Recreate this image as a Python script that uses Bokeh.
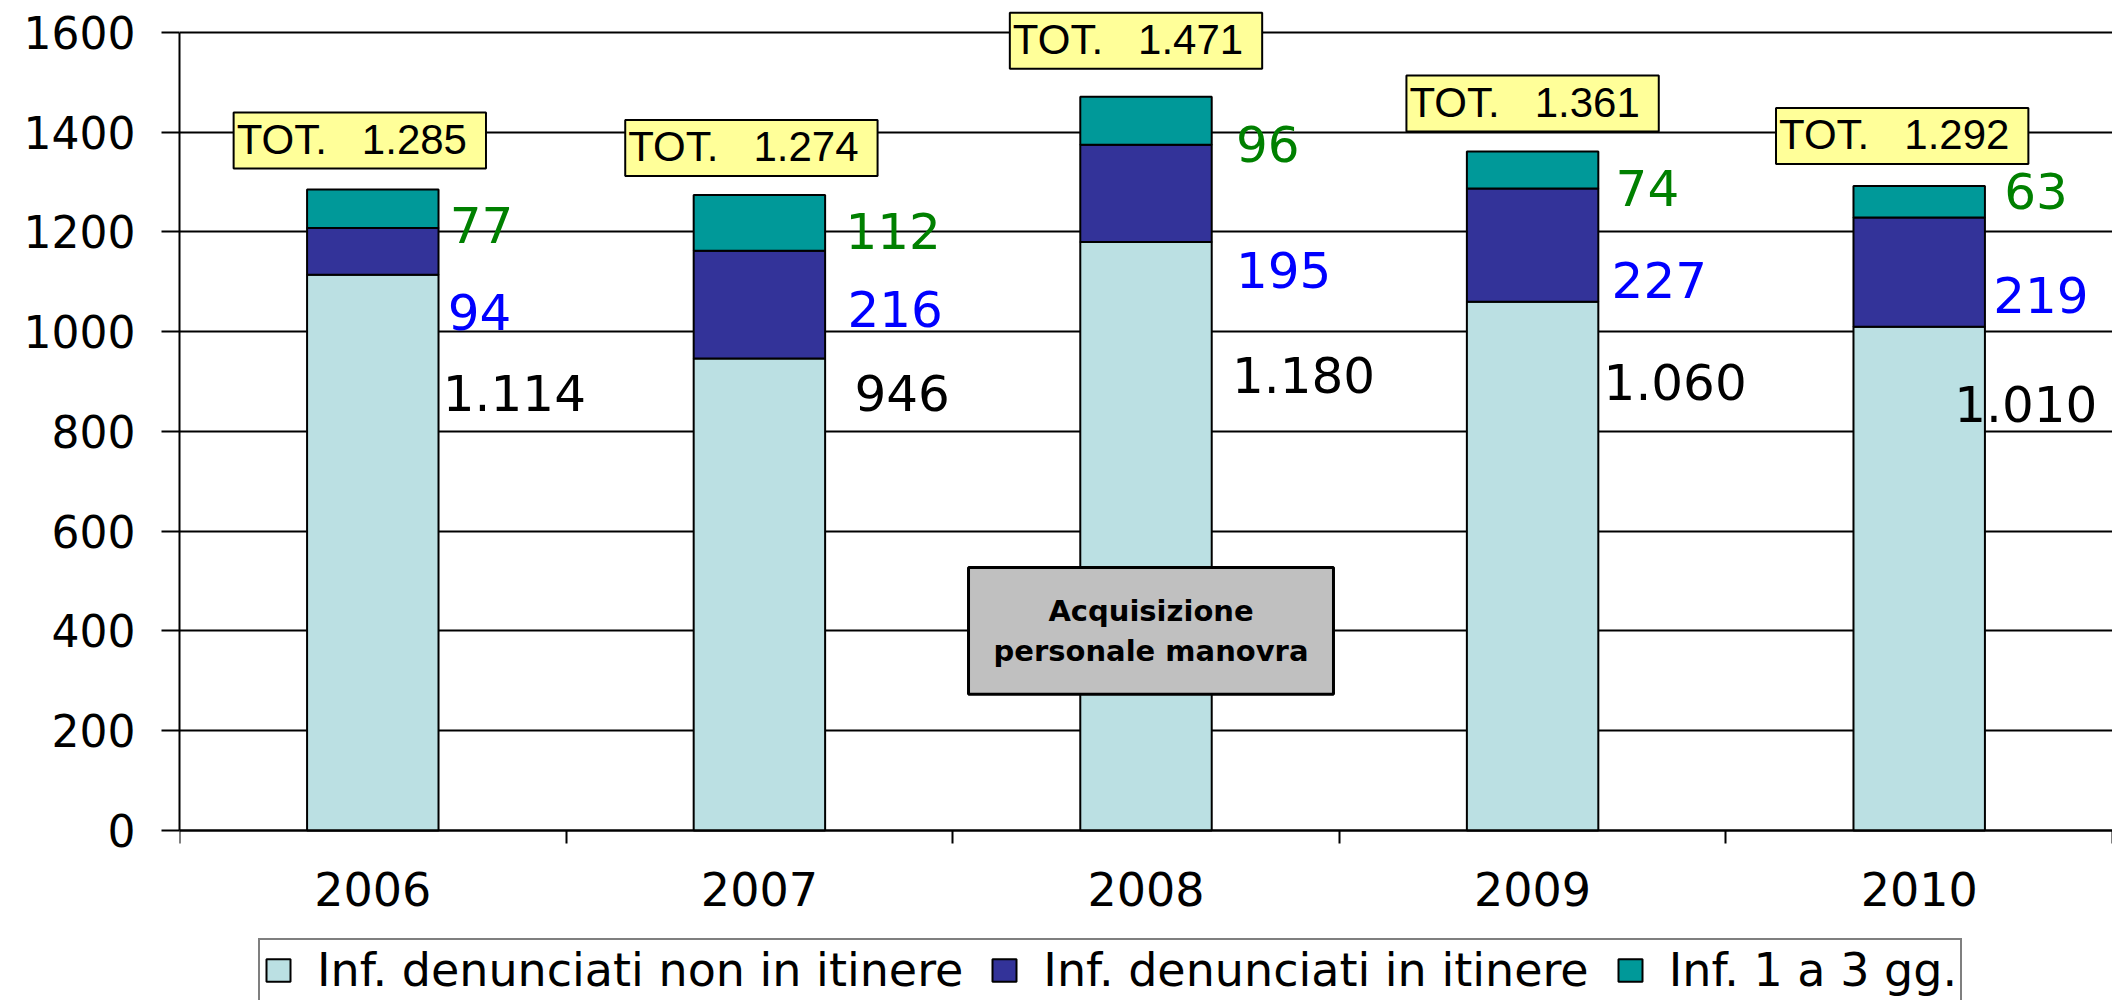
from bokeh.plotting import figure
from bokeh.models import ColumnDataSource, Range1d, FixedTicker, Legend, LegendItem, Label
from bokeh.embed import file_html
from bokeh.resources import INLINE
from bokeh.core.properties import value

# ---------------- data ----------------
years = ["2006", "2007", "2008", "2009", "2010"]
non_itinere = [1114, 946, 1180, 1060, 1010]
in_itinere = [94, 216, 195, 227, 219]
gg_1_3 = [77, 112, 96, 74, 63]
series_names = ["Inf. denunciati non in itinere", "Inf. denunciati in itinere", "Inf. 1 a 3 gg."]
y_ticks = [0, 200, 400, 600, 800, 1000, 1200, 1400, 1600]
note_text = "Acquisizione\npersonale manovra"
note_year = "2008"
note_value = 400

# ---------------- label placement (layout only) ----------------
lbl_y_gg = [1213, 1202, 1377, 1288, 1283]
lbl_y_it = [1040, 1046, 1124, 1104, 1074]
lbl_y_base = [878, 878, 913, 900, 855]
dx_gg = [77, 86, 90, 83, 85]
dx_it = [75, 88, 90, 79, 74]
dx_base = [70, 95, 86, 71, 35]
tot_dx = [-13, -8, -10, 0, -17]
tot_gap = [21, 19, 28, 20, 22]

colors = ["#BBE0E3", "#333399", "#009999"]
FONT = "DejaVu Sans"


def fmt(v):
    return f"{v:,}".replace(",", ".")


xs = [i + 0.5 for i in range(len(years))]
totals = [a + b + c for a, b, c in zip(non_itinere, in_itinere, gg_1_3)]

src = ColumnDataSource(dict(x=xs, base=non_itinere, it=in_itinere, gg=gg_1_3))

p = figure(width=2112, height=1000, output_backend="svg", toolbar_location=None,
           x_range=Range1d(0, 5), y_range=Range1d(-341, 1664),
           min_border_left=179, min_border_right=0, min_border_top=0, min_border_bottom=0)
p.outline_line_color = None
p.background_fill_color = "white"
p.border_fill_color = "white"

rs = p.vbar_stack(["base", "it", "gg"], x="x", width=0.34, fill_color=colors,
                  line_color="black", line_width=2, source=src)

# axes
p.yaxis.ticker = FixedTicker(ticks=y_ticks)
p.yaxis.bounds = (0, 1600)
p.yaxis.axis_line_width = 2
p.yaxis.major_tick_line_width = 2
p.yaxis.major_tick_out = 18
p.yaxis.major_tick_in = 0
p.yaxis.minor_tick_line_color = None
p.yaxis.major_label_standoff = 26
p.yaxis.major_label_text_font = FONT
p.yaxis.major_label_text_font_size = "44px"
p.yaxis.major_label_text_color = "black"

p.xaxis.fixed_location = 0
p.xaxis.ticker = FixedTicker(ticks=xs, minor_ticks=[0, 1, 2, 3, 4, 5])
p.xaxis.major_label_overrides = {x: y for x, y in zip(xs, years)}
p.xaxis.axis_line_width = 2
p.xaxis.major_tick_out = 0
p.xaxis.major_tick_in = 0
p.xaxis.minor_tick_out = 13
p.xaxis.minor_tick_in = 0
p.xaxis.minor_tick_line_width = 2
p.xaxis.minor_tick_line_color = "black"
p.xaxis.major_label_standoff = 29
p.xaxis.major_label_text_font = FONT
p.xaxis.major_label_text_font_size = "46px"
p.xaxis.major_label_text_color = "black"

p.xgrid.grid_line_color = None
p.ygrid.grid_line_color = "black"
p.ygrid.grid_line_width = 2
p.ygrid.level = "underlay"

# value labels
lab = ColumnDataSource(dict(
    x=xs * 3,
    y=lbl_y_gg + lbl_y_it + lbl_y_base,
    dx=dx_gg + dx_it + dx_base,
    t=[fmt(v) for v in gg_1_3] + [fmt(v) for v in in_itinere] + [fmt(v) for v in non_itinere],
    c=["#008000"] * 5 + ["#0000FF"] * 5 + ["black"] * 5,
))
p.text(x="x", y="y", text="t", x_offset="dx", text_color="c", source=lab,
       text_font=value(FONT), text_font_size="50px", text_align="left", text_baseline="middle")

# total boxes
for x, tot, dx, gap in zip(xs, totals, tot_dx, tot_gap):
    p.add_layout(Label(x=x, y=tot, x_offset=dx, y_offset=gap,
                       text="TOT.\u00a0\u00a0\u00a0" + fmt(tot),
                       text_font="Liberation Sans", text_font_size="42px", text_color="black",
                       text_align="center", text_baseline="bottom",
                       background_fill_color="#FFFF99", background_fill_alpha=1.0,
                       border_line_color="black", border_line_width=2,
                       padding=(3, 19, 3, 6)))

# annotation box
p.add_layout(Label(x=xs[years.index(note_year)], y=note_value, x_offset=5,
                   text=note_text, text_font=FONT, text_font_style="bold",
                   text_font_size="29px", text_color="black",
                   text_align="center", text_baseline="middle",
                   background_fill_color="#C0C0C0", background_fill_alpha=1.0,
                   border_line_color="black", border_line_width=3,
                   padding=(25, 26)))

legend = Legend(items=[LegendItem(label=n, renderers=[r]) for n, r in zip(series_names, rs)],
                orientation="horizontal", location=(79, -2),
                glyph_width=30, glyph_height=28, label_standoff=24, spacing=26, padding=3,
                margin=0, label_text_font=FONT, label_text_font_size="46px",
                label_text_color="black",
                border_line_color="black", border_line_width=2,
                background_fill_color="white", background_fill_alpha=1.0)
p.add_layout(legend, "center")

open("out.html", "w").write(file_html(p, INLINE))
